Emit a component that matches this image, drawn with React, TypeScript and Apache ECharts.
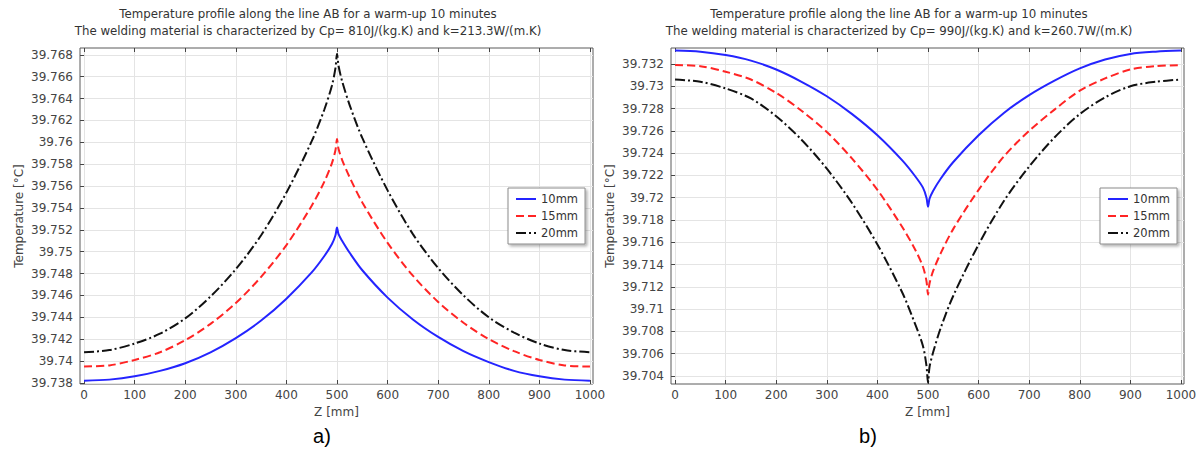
import React, { useEffect, useRef } from 'react';
import * as echarts from 'echarts';

// Positions along the line AB [mm] (shared by all curves)
const zPos = [0, 50, 100, 150, 200, 250, 300, 350, 400, 450, 475, 490, 497, 500, 503, 510, 525, 550, 600, 650, 700, 750, 800, 850, 900, 950, 1000];

// Chart a) Cp=810, k=213.3
const blueA = [39.7382, 39.7383, 39.7386, 39.7391, 39.7398, 39.7408, 39.7421, 39.7437, 39.7457, 39.7481, 39.7496, 39.7507, 39.7515, 39.7522, 39.7516, 39.7510, 39.7499, 39.7483, 39.7458, 39.7438, 39.7422, 39.7409, 39.7399, 39.7391, 39.7386, 39.7383, 39.7382];
const redA = [39.7395, 39.7396, 39.7401, 39.7408, 39.7419, 39.7434, 39.7453, 39.7477, 39.7506, 39.7542, 39.7564, 39.7581, 39.7593, 39.7603, 39.7594, 39.7584, 39.7568, 39.7545, 39.7508, 39.7478, 39.7454, 39.7435, 39.7420, 39.7409, 39.7401, 39.7396, 39.7395];
const blackA = [39.7408, 39.7410, 39.7416, 39.7425, 39.7439, 39.7459, 39.7484, 39.7515, 39.7554, 39.7601, 39.7630, 39.7652, 39.7668, 39.7681, 39.7670, 39.7656, 39.7634, 39.7604, 39.7556, 39.7516, 39.7485, 39.7460, 39.7440, 39.7426, 39.7416, 39.7410, 39.7408];

// Chart b) Cp=990, k=260.7
const blueB = [39.7332, 39.7331, 39.7328, 39.7323, 39.7315, 39.7304, 39.7291, 39.7275, 39.7256, 39.7233, 39.7219, 39.7209, 39.7200, 39.7192, 39.7199, 39.7206, 39.7217, 39.7232, 39.7256, 39.7276, 39.7292, 39.7305, 39.7316, 39.7324, 39.7329, 39.7331, 39.7332];
const redB = [39.7319, 39.7318, 39.7313, 39.7306, 39.7294, 39.7278, 39.7259, 39.7235, 39.7207, 39.7173, 39.7153, 39.7138, 39.7125, 39.7113, 39.7123, 39.7134, 39.7150, 39.7172, 39.7207, 39.7237, 39.7260, 39.7279, 39.7296, 39.7307, 39.7315, 39.7318, 39.7319];
const blackB = [39.7306, 39.7304, 39.7298, 39.7289, 39.7273, 39.7252, 39.7226, 39.7195, 39.7158, 39.7114, 39.7086, 39.7067, 39.7049, 39.7034, 39.7048, 39.7061, 39.7083, 39.7112, 39.7158, 39.7197, 39.7228, 39.7254, 39.7275, 39.7290, 39.7300, 39.7304, 39.7306];

const seriesNames = ['10mm', '15mm', '20mm'];
const xTicks = [0, 100, 200, 300, 400, 500, 600, 700, 800, 900, 1000];
const yTicksA = [39.738, 39.74, 39.742, 39.744, 39.746, 39.748, 39.75, 39.752, 39.754, 39.756, 39.758, 39.76, 39.762, 39.764, 39.766, 39.768];
const yTicksB = [39.704, 39.706, 39.708, 39.71, 39.712, 39.714, 39.716, 39.718, 39.72, 39.722, 39.724, 39.726, 39.728, 39.73, 39.732];

const titleLine1 = 'Temperature profile along the line AB for a warm-up 10 minutes';
const titleA2 = 'The welding material is characterized by Cp= 810J/(kg.K) and k=213.3W/(m.K)';
const titleB2 = 'The welding material is characterized by Cp= 990J/(kg.K) and k=260.7W/(m.K)';

const FONT = 'DejaVu Sans';

function pairs(xs: number[], ys: number[]) {
  return xs.map((x, i) => [x, ys[i]]);
}

export default function App() {
  const ref = useRef<HTMLDivElement>(null);

  useEffect(() => {
    document.body.style.margin = '0';
    const chart = echarts.init(ref.current!, null, { renderer: 'svg' });

    const grids = [
      { left: 80, top: 48, width: 513, height: 336 },
      { left: 671, top: 48, width: 513, height: 336 },
    ];
    const yRanges = [
      { min: 39.7379, max: 39.76862, ticks: yTicksA },
      { min: 39.70328, max: 39.73343, ticks: yTicksB },
    ];
    const xMin = -8;
    const xMax = 1006;
    const labelStyle = { fontFamily: FONT, fontSize: 12, color: '#444' };
    const gridLine = { show: true, lineStyle: { color: '#e4e4e4', width: 1 } };
    const tickColor = '#444';

    const xAxis: any[] = [];
    const yAxis: any[] = [];
    grids.forEach((g, i) => {
      xAxis.push({
        type: 'value', gridIndex: i, position: 'bottom', min: xMin, max: xMax,
        name: 'Z [mm]', nameLocation: 'middle', nameGap: 17,
        nameTextStyle: { ...labelStyle },
        axisLine: { show: false },
        axisTick: { show: true, inside: true, length: 4, customValues: xTicks, lineStyle: { color: tickColor } },
        axisLabel: { ...labelStyle, margin: 5, customValues: xTicks, formatter: (v: number) => String(Math.round(v)) },
        splitLine: gridLine,
      });
      xAxis.push({
        type: 'value', gridIndex: i, position: 'top', min: xMin, max: xMax,
        axisLine: { show: false },
        axisTick: { show: true, inside: true, length: 4, customValues: xTicks, lineStyle: { color: tickColor } },
        axisLabel: { show: false },
        splitLine: { show: false },
      });
      const yr = yRanges[i];
      yAxis.push({
        type: 'value', gridIndex: i, position: 'left', min: yr.min, max: yr.max,
        name: 'Temperature [°C]', nameLocation: 'middle', nameGap: 55,
        nameTextStyle: { ...labelStyle },
        axisLine: { show: false },
        axisTick: { show: true, inside: false, length: 3, customValues: yr.ticks, lineStyle: { color: tickColor } },
        axisLabel: {
          ...labelStyle, margin: 7, customValues: yr.ticks,
          formatter: (v: number) => String(+Number(v).toFixed(3)),
        },
        splitLine: gridLine,
      });
      yAxis.push({
        type: 'value', gridIndex: i, position: 'right', min: yr.min, max: yr.max,
        axisLine: { show: false },
        axisTick: { show: true, inside: true, length: 4, customValues: yr.ticks, lineStyle: { color: tickColor } },
        axisLabel: { show: false },
        splitLine: { show: false },
      });
    });

    const styles = [
      { color: '#2424ff', type: 'solid' as any },
      { color: '#ff2424', type: [8, 4] as any },
      { color: '#111111', type: [10, 3, 2, 3] as any },
    ];
    const dataSets = [
      [blueA, redA, blackA],
      [blueB, redB, blackB],
    ];
    const series: any[] = [];
    dataSets.forEach((set, gi) => {
      set.forEach((vals, si) => {
        series.push({
          type: 'line',
          name: seriesNames[si],
          xAxisIndex: gi * 2,
          yAxisIndex: gi * 2,
          data: pairs(zPos, vals),
          symbol: 'none',
          showSymbol: false,
          smooth: 0.3,
          color: styles[si].color,
          lineStyle: { color: styles[si].color, width: 2, type: styles[si].type },
          z: 3 + si,
        });
      });
    });

    const legendBase = {
      orient: 'vertical',
      top: 188,
      data: seriesNames,
      padding: [4, 7, 4, 7],
      itemWidth: 20,
      itemHeight: 14,
      itemGap: 3,
      selectedMode: false,
      itemStyle: { opacity: 0, borderWidth: 0 },
      textStyle: { fontFamily: FONT, fontSize: 11.5, color: '#333', lineHeight: 14 },
      backgroundColor: '#ffffff',
      borderColor: '#8a8a8a',
      borderWidth: 1,
      borderRadius: 0,
      shadowBlur: 3,
      shadowOffsetX: 2,
      shadowOffsetY: 2,
      shadowColor: 'rgba(0,0,0,0.3)',
    };

    const txt = (x: number, y: number, text: string, size: number, color: string, family = FONT) => ({
      type: 'text', x, y, silent: true,
      style: { text, align: 'center', verticalAlign: 'middle', fontSize: size, fontFamily: family, fill: color },
    });

    chart.setOption({
      animation: false,
      backgroundColor: '#ffffff',
      grid: grids.map((g) => ({
        ...g, show: true, borderColor: '#5a5a5a', borderWidth: 1, backgroundColor: '#ffffff',
        containLabel: false, outerBoundsMode: 'none',
      })),
      xAxis,
      yAxis,
      legend: [
        { ...legendBase, left: 508 },
        { ...legendBase, left: 1100 },
      ],
      series,
      graphic: [
        txt(308, 14, titleLine1, 11.8, '#333'),
        txt(308, 31, titleA2, 11.8, '#333'),
        txt(899, 14, titleLine1, 11.8, '#333'),
        txt(899, 31, titleB2, 11.8, '#333'),
        txt(322, 436, 'a)', 20, '#000', 'Liberation Sans'),
        txt(868, 436, 'b)', 20, '#000', 'Liberation Sans'),
      ],
    });

    return () => chart.dispose();
  }, []);

  return <div ref={ref} style={{ width: 1199, height: 450 }} />;
}
